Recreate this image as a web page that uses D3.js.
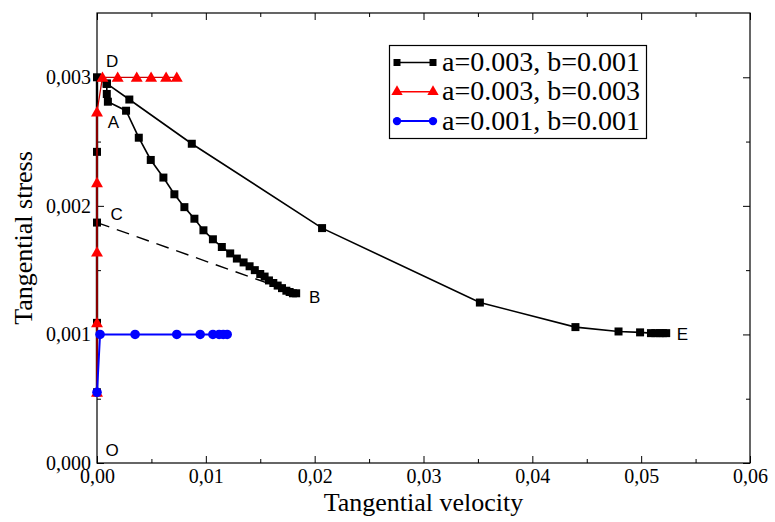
<!DOCTYPE html>
<html>
<head>
<meta charset="utf-8">
<script src="https://cdn.jsdelivr.net/npm/d3@7"></script>
<style>
  html, body { margin: 0; padding: 0; background: #fff; }
  svg { display: block; }
  .tick-label { font-family: "Liberation Serif", "Times New Roman", serif; font-size: 20px; fill: #000; }
  .axis-title { font-family: "Liberation Serif", "Times New Roman", serif; font-size: 26px; fill: #000; }
  .legend-text { font-family: "Liberation Serif", "Times New Roman", serif; font-size: 28px; fill: #000; }
  .point-label { font-family: "Liberation Sans", Arial, sans-serif; font-size: 17px; fill: #000; }
</style>
</head>
<body>
<svg id="chart" width="775" height="522"></svg>
<script>
// ---- data ----
// Axis ticks
const xTickValues = [0, 0.01, 0.02, 0.03, 0.04, 0.05, 0.06];
const xMinorTicks = [0.005, 0.015, 0.025, 0.035, 0.045, 0.055];
const yTickValues = [0, 0.001, 0.002, 0.003];
const yMinorTicks = [0.0005, 0.0015, 0.0025];

// a=0.003, b=0.001 : loading up along the stress axis
const blackRiseV = [0, 0, 0, 0, 0, 0.0009];
const blackRiseS = [0.00055, 0.00109, 0.00187, 0.00242, 0.0030, 0.00295];
// a=0.003, b=0.001 : branch D -> E
const blackUpperV = [0.0009, 0.00297, 0.00871, 0.02068, 0.03518, 0.04396, 0.04792, 0.0499, 0.0509, 0.0513, 0.0517, 0.0520, 0.0523];
const blackUpperS = [0.00295, 0.002827, 0.002483, 0.001827, 0.001248, 0.001057, 0.001023, 0.001016, 0.00101, 0.00101, 0.00101, 0.00101, 0.00101];
// a=0.003, b=0.001 : branch A -> B
const blackLowerV = [0.0009, 0.0009, 0.0010, 0.00267, 0.00384, 0.00494, 0.0061, 0.00711, 0.00803, 0.00895, 0.00978, 0.01065, 0.01147, 0.01224, 0.01285, 0.01347, 0.01402, 0.0145, 0.0150, 0.0154, 0.0158, 0.0162, 0.0166, 0.0170, 0.0174, 0.0177, 0.0180, 0.0183];
const blackLowerS = [0.00295, 0.00287, 0.00281, 0.00274, 0.00253, 0.002357, 0.00222, 0.00209, 0.00199, 0.0019, 0.00181, 0.00174, 0.00168, 0.00163, 0.00159, 0.00156, 0.00153, 0.0015, 0.00147, 0.00145, 0.00142, 0.0014, 0.00138, 0.00136, 0.00134, 0.00133, 0.00132, 0.00132];

// a=0.003, b=0.003
const redV = [0, 0, 0, 0, 0, 0.0005, 0.0019, 0.00365, 0.00497, 0.00635, 0.00733];
const redS = [0.00055, 0.00109, 0.00164, 0.00218, 0.00273, 0.0030, 0.0030, 0.0030, 0.0030, 0.0030, 0.0030];

// a=0.001, b=0.001
const blueV = [0, 0.00028, 0.0035, 0.00733, 0.00948, 0.01065, 0.01122, 0.0116, 0.01196];
const blueS = [0.00055, 0.001, 0.001, 0.001, 0.001, 0.001, 0.001, 0.001, 0.001];

// dashed unloading line C -> B
const dashV = [0, 0.0183];
const dashS = [0.00187, 0.00132];

// annotated points
const pointNames = ["D", "A", "C", "B", "E", "O"];
const pointV = [0.0014, 0.0015, 0.0018, 0.0200, 0.0538, 0.0014];
const pointS = [0.00312, 0.00265, 0.00193, 0.00129, 0.001, 0.0001];

const legendNames = ["a=0.003, b=0.001", "a=0.003, b=0.003", "a=0.001, b=0.001"];
const legendColors = ["#000000", "#ff0000", "#0000ff"];
const legendShapes = ["square", "triangle", "circle"];

// ---- layout ----
const svg = d3.select("#chart");
const margin = { left: 97, right: 25, top: 13, bottom: 59 };
const W = 775, H = 522;
const x = d3.scaleLinear().domain([0, 0.06]).range([margin.left, W - margin.right]);
const y = d3.scaleLinear().domain([0, 0.0035]).range([H - margin.bottom, margin.top]);

const locale = d3.formatLocale({ decimal: ",", thousands: ".", grouping: [3], currency: ["", ""] });
const fx = locale.format(".2f");
const fy = locale.format(".3f");

const zip = (a, b) => a.map((v, i) => [v, b[i]]);

// ---- axes (ticks point inward, mirrored on top/right) ----
function styleAxis(g) {
  g.select(".domain").remove();
  g.selectAll(".tick line").attr("stroke", "#000").attr("stroke-width", 1);
}
const majorLen = 7, minorLen = 4;

svg.append("g").attr("transform", `translate(0,${y(0)})`)
  .call(d3.axisBottom(x).tickValues(xTickValues).tickSizeInner(-majorLen).tickSizeOuter(0).tickPadding(6).tickFormat(fx))
  .call(styleAxis)
  .call(g => g.selectAll("text").attr("class", "tick-label").attr("font-size", null).attr("font-family", null).attr("dy", "0.71em"));
svg.append("g").attr("transform", `translate(0,${y(0)})`)
  .call(d3.axisBottom(x).tickValues(xMinorTicks).tickSizeInner(-minorLen).tickSizeOuter(0).tickFormat(""))
  .call(styleAxis);
svg.append("g").attr("transform", `translate(0,${margin.top})`)
  .call(d3.axisTop(x).tickValues(xTickValues).tickSizeInner(-majorLen).tickSizeOuter(0).tickFormat(""))
  .call(styleAxis);
svg.append("g").attr("transform", `translate(0,${margin.top})`)
  .call(d3.axisTop(x).tickValues(xMinorTicks).tickSizeInner(-minorLen).tickSizeOuter(0).tickFormat(""))
  .call(styleAxis);

svg.append("g").attr("transform", `translate(${x(0)},0)`)
  .call(d3.axisLeft(y).tickValues(yTickValues).tickSizeInner(-majorLen).tickSizeOuter(0).tickPadding(6).tickFormat(fy))
  .call(styleAxis)
  .call(g => g.selectAll("text").attr("class", "tick-label").attr("font-size", null).attr("font-family", null));
svg.append("g").attr("transform", `translate(${x(0)},0)`)
  .call(d3.axisLeft(y).tickValues(yMinorTicks).tickSizeInner(-minorLen).tickSizeOuter(0).tickFormat(""))
  .call(styleAxis);
svg.append("g").attr("transform", `translate(${x(0.06)},0)`)
  .call(d3.axisRight(y).tickValues(yTickValues).tickSizeInner(-majorLen).tickSizeOuter(0).tickFormat(""))
  .call(styleAxis);
svg.append("g").attr("transform", `translate(${x(0.06)},0)`)
  .call(d3.axisRight(y).tickValues(yMinorTicks).tickSizeInner(-minorLen).tickSizeOuter(0).tickFormat(""))
  .call(styleAxis);

// plot frame
svg.append("rect")
  .attr("x", x(0)).attr("y", y(0.0035))
  .attr("width", x(0.06) - x(0)).attr("height", y(0) - y(0.0035))
  .attr("fill", "none").attr("stroke", "#000").attr("stroke-width", 1.2);

// axis titles
svg.append("text").attr("class", "axis-title")
  .attr("x", (x(0) + x(0.06)) / 2).attr("y", 511)
  .attr("text-anchor", "middle").text("Tangential velocity");
svg.append("text").attr("class", "axis-title")
  .attr("transform", `translate(32,${(y(0) + y(0.0035)) / 2}) rotate(-90)`)
  .attr("text-anchor", "middle").text("Tangential stress");

// ---- series ----
const line = d3.line().x(d => x(d[0])).y(d => y(d[1]));
const squareSym = d3.symbol(d3.symbolSquare, 64);
const triSym = d3.symbol(d3.symbolTriangle, 62);

function drawLine(pts, color, width, dash) {
  svg.append("path").datum(pts)
    .attr("d", line).attr("fill", "none")
    .attr("stroke", color).attr("stroke-width", width)
    .attr("stroke-dasharray", dash || null);
}
function drawMarkers(pts, shape, color) {
  const g = svg.append("g");
  if (shape === "circle") {
    g.selectAll("circle").data(pts).join("circle")
      .attr("cx", d => x(d[0])).attr("cy", d => y(d[1])).attr("r", 4.8).attr("fill", color);
  } else {
    const sym = shape === "square" ? squareSym : triSym;
    g.selectAll("path").data(pts).join("path")
      .attr("transform", d => `translate(${x(d[0])},${y(d[1]) + (shape === "triangle" ? 1 : 0)})`)
      .attr("d", sym).attr("fill", color);
  }
}

const blackRise = zip(blackRiseV, blackRiseS);
const blackUpper = zip(blackUpperV, blackUpperS);
const blackLower = zip(blackLowerV, blackLowerS);
const red = zip(redV, redS);
const blue = zip(blueV, blueS);

drawLine(zip(dashV, dashS), "#000", 1.4, "13,8");
drawLine(blackRise, "#000", 2.4);
drawLine(blackUpper, "#000", 1.6);
drawLine(blackLower, "#000", 1.6);
drawMarkers(blackRise, "square", "#000");
drawMarkers(blackUpper, "square", "#000");
drawMarkers(blackLower, "square", "#000");

drawLine(red, "#d00000", 1.3);
drawMarkers(red, "triangle", "#ff0000");

drawLine(blue, "#0000ff", 2);
drawMarkers(blue, "circle", "#0000ff");

// point labels
svg.append("g").selectAll("text").data(pointNames).join("text")
  .attr("class", "point-label")
  .attr("x", (d, i) => x(pointV[i])).attr("y", (d, i) => y(pointS[i]))
  .attr("text-anchor", "middle").attr("dominant-baseline", "central")
  .text(d => d);

// ---- legend ----
const lg = svg.append("g");
lg.append("rect").attr("x", 389.5).attr("y", 45.5).attr("width", 257).attr("height", 93)
  .attr("fill", "#fff").attr("stroke", "#000").attr("stroke-width", 1.2);
legendNames.forEach((name, i) => {
  const cy = 62.5 + i * 29.3;
  const c = legendColors[i];
  lg.append("line").attr("x1", 397).attr("x2", 433).attr("y1", cy).attr("y2", cy)
    .attr("stroke", c).attr("stroke-width", i === 2 ? 2 : 1.6);
  [397, 433].forEach(px => {
    if (legendShapes[i] === "circle") {
      lg.append("circle").attr("cx", px).attr("cy", cy).attr("r", 4.2).attr("fill", c);
    } else {
      const sym = legendShapes[i] === "square" ? d3.symbol(d3.symbolSquare, 49) : d3.symbol(d3.symbolTriangle, 55);
      lg.append("path").attr("transform", `translate(${px},${cy})`).attr("d", sym).attr("fill", c);
    }
  });
  lg.append("text").attr("class", "legend-text").attr("x", 442).attr("y", cy + 8.5).text(name);
});
</script>
</body>
</html>
